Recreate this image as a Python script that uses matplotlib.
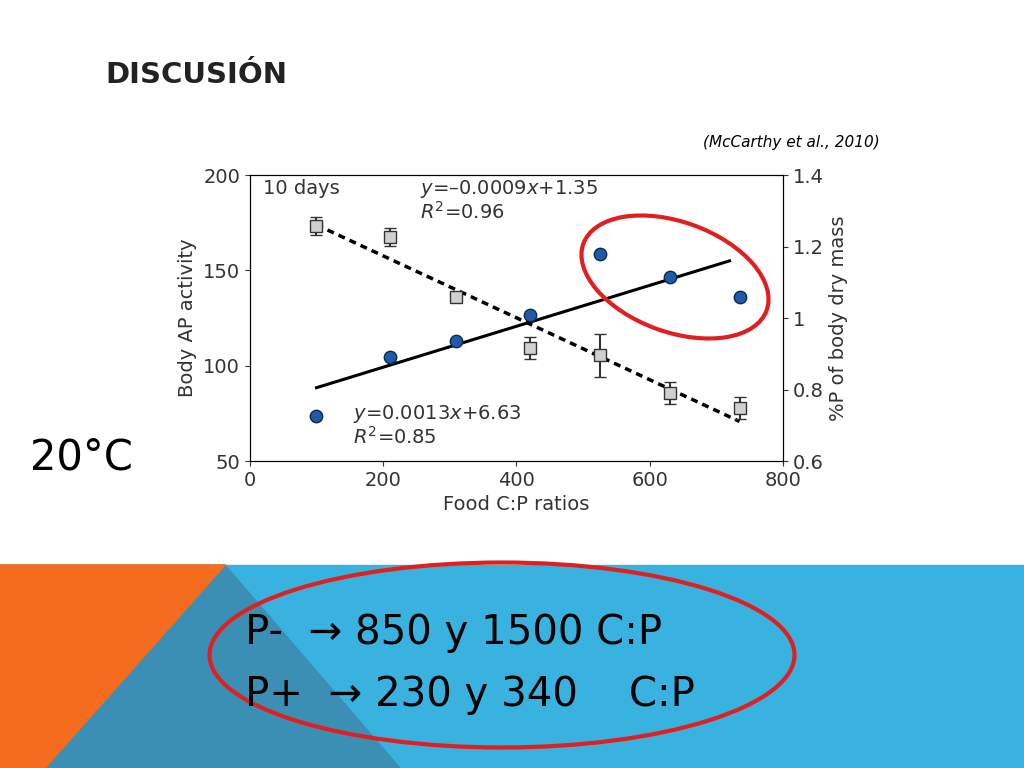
import matplotlib
matplotlib.use("Agg")
import matplotlib.pyplot as plt
import numpy as np
from matplotlib.patches import Ellipse, Polygon

cp = [100, 210, 310, 420, 525, 630, 735]
ap_activity = [73.5, 104.5, 113, 126.5, 158.5, 146.5, 136]
p_mass = [1.257, 1.227, 1.059, 0.916, 0.896, 0.79, 0.748]
p_err = [0.025, 0.025, 0.015, 0.03, 0.06, 0.03, 0.03]

fig = plt.figure(figsize=(10.24, 7.68), dpi=100)
fig.patch.set_facecolor("white")
bg = fig.add_axes([0, 0, 1, 1]); bg.set_xlim(0, 1024); bg.set_ylim(768, 0); bg.axis("off")
bg.add_patch(Polygon([[0, 565], [1024, 565], [1024, 768], [0, 768]], color="#3AB2E0"))
bg.add_patch(Polygon([[225, 565], [400, 768], [0, 768], [0, 565]], color="#3C8FB4"))
bg.add_patch(Polygon([[0, 565], [225, 565], [45, 768], [0, 768]], color="#F56C1E"))
bg.add_patch(Ellipse((502, 655), 585, 185, fill=False, ec="#E02020", lw=3))
bg.text(105, 75, "DISCUSIÓN", fontsize=21, fontweight="bold", color="#222222", va="center")
bg.text(880, 143, "(McCarthy et al., 2010)", fontsize=11, style="italic", ha="right", va="center")
bg.text(30, 458, "20°C", fontsize=30, ha="left", va="center")
bg.text(245, 633, "P-  \u2192 850 y 1500 C:P", fontsize=29, va="center")
bg.text(245, 695, "P+  \u2192 230 y 340    C:P", fontsize=29, va="center")

ax = fig.add_axes([0.244, 0.3997, 0.5205, 0.3724])
ax.patch.set_visible(False)
ax.set_xlim(0, 800); ax.set_ylim(50, 200)
ax.set_xticks([0, 200, 400, 600, 800]); ax.set_yticks([50, 100, 150, 200])
ax.tick_params(labelsize=14, colors="#333333")
ax.set_xlabel("Food C:P ratios", fontsize=14, color="#333333")
ax.set_ylabel("Body AP activity", fontsize=14, color="#333333")
ax.scatter(cp, ap_activity, s=80, color="#1F5AA6", edgecolor="#0a2a55", zorder=5)
c = np.polyfit(cp, ap_activity, 1)
xs = np.array([100, 720])
ax.plot(xs, np.polyval(c, xs), color="black", lw=2.2)
ax.text(20, 190, "10 days", fontsize=14, color="#333333")
ax.text(255, 190, "$y$=\u20130.0009$x$+1.35", fontsize=14, color="#333333")
ax.text(255, 177, "$R^2$=0.96", fontsize=14, color="#333333")
ax.text(155, 72, "$y$=0.0013$x$+6.63", fontsize=14, color="#333333")
ax.text(155, 59, "$R^2$=0.85", fontsize=14, color="#333333")

ax2 = ax.twinx()
ax2.patch.set_visible(False)
ax2.set_ylim(0.6, 1.4)
ax2.set_yticks([0.6, 0.8, 1.0, 1.2, 1.4]); ax2.set_yticklabels(["0.6", "0.8", "1", "1.2", "1.4"])
ax2.tick_params(labelsize=14, colors="#333333")
ax2.set_ylabel("%P of body dry mass", fontsize=14, color="#333333")
ax2.errorbar(cp, p_mass, yerr=p_err, fmt="s", ms=8, mfc="#d0d0d0", mec="#333333",
             ecolor="#333333", capsize=4, zorder=5)
c2 = np.polyfit(cp, p_mass, 1)
xs2 = np.array([100, 735])
ax2.plot(xs2, np.polyval(c2, xs2), color="black", lw=2.5, ls=(0, (2, 1.5)))

ell = Ellipse((675, 277), 195, 110, angle=20, fill=False, ec="#E02020", lw=3, zorder=10,
              transform=bg.transData, clip_on=False)
ax2.add_artist(ell)
fig.savefig("out.png", dpi=100)
